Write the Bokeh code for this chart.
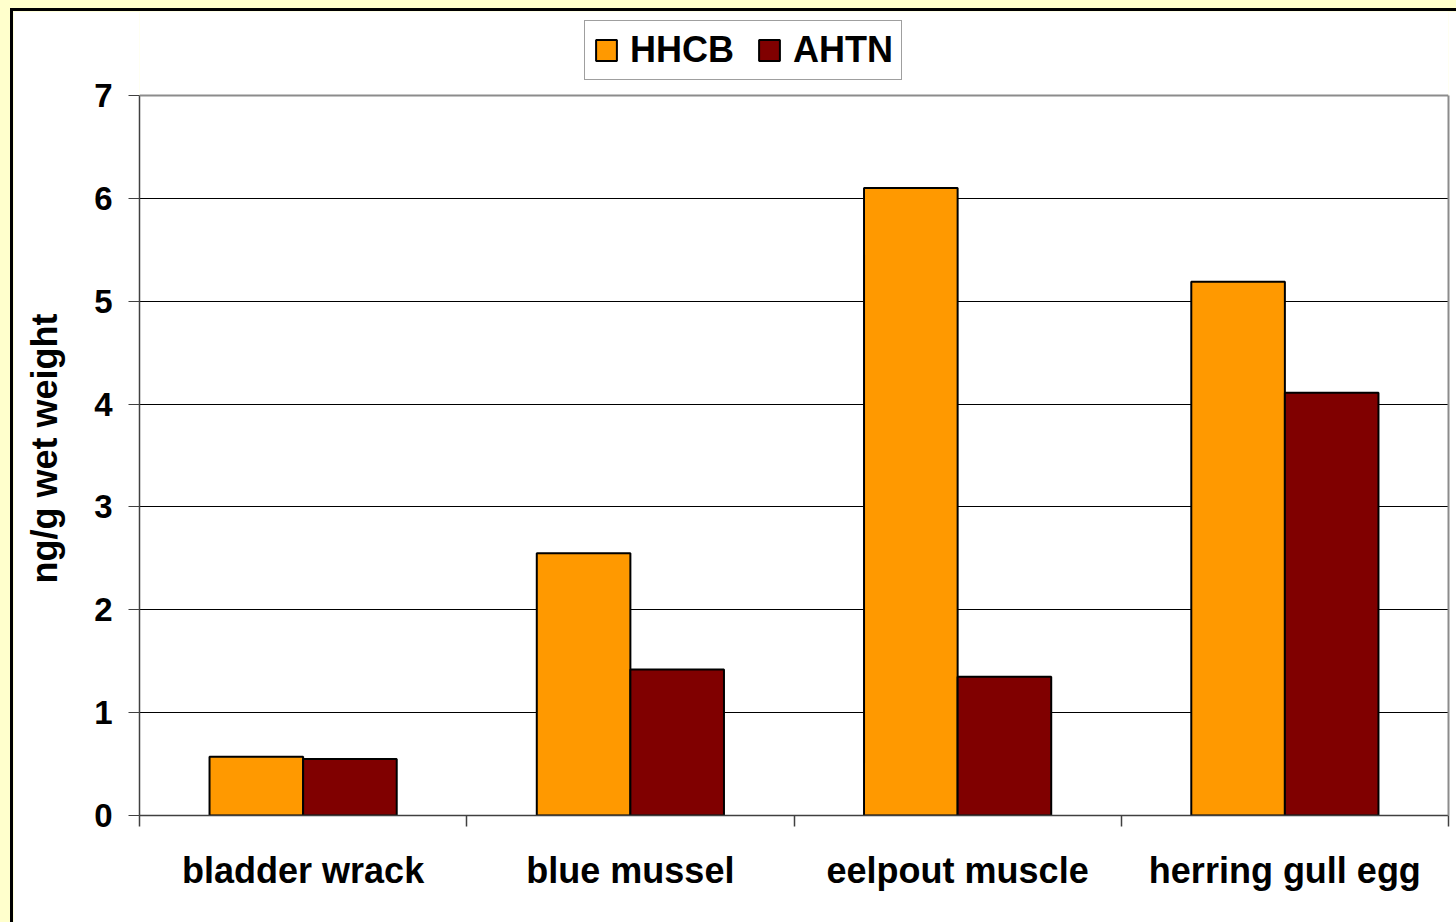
import numpy as np
from bokeh.plotting import figure
from bokeh.models import (ColumnDataSource, FixedTicker, Legend, LegendItem,
                          LinearAxis, Span)
from bokeh.transform import dodge
from bokeh.embed import file_html
from bokeh.resources import INLINE

categories = ["bladder wrack", "blue mussel", "eelpout muscle", "herring gull egg"]
hhcb = [0.57, 2.55, 6.10, 5.19]
ahtn = [0.55, 1.42, 1.35, 4.11]
series_names = ["HHCB", "AHTN"]
series_colors = ["#FF9900", "#800000"]
y_ticks = [0, 1, 2, 3, 4, 5, 6, 7]
y_label = "ng/g wet weight"

FONT = "Liberation Sans"
YMAX = 7
# layout constants (pixels)
FRAME_W = 1309
FRAME_H = 804          # frame extends up to the top to hold the legend
AXIS_H = 720           # pixel height of the 0..7 value range
y_top = YMAX * FRAME_H / AXIS_H

centers = np.arange(len(categories)) + 0.5
src = ColumnDataSource(dict(x=centers, hhcb=hhcb, ahtn=ahtn))

p = figure(frame_width=FRAME_W, frame_height=FRAME_H,
           x_range=(0, len(categories)), y_range=(0, y_top),
           output_backend="svg", toolbar_location=None,
           min_border_left=126, min_border_right=8, min_border_top=0,
           min_border_bottom=107)
p.border_fill_color = "white"
p.background_fill_color = "white"
p.outline_line_color = None
p.styles = {"margin-left": "10px", "margin-top": "8px",
            "border-left": "3px solid black", "border-top": "3px solid black"}

bw = 0.286
r1 = p.vbar(x=dodge("x", -0.143, range=p.x_range), top="hhcb", width=bw,
            source=src, fill_color=series_colors[0], line_color="black",
            line_width=2)
r2 = p.vbar(x=dodge("x", 0.143, range=p.x_range), top="ahtn", width=bw,
            source=src, fill_color=series_colors[1], line_color="black",
            line_width=2)

# grid
p.xgrid.grid_line_color = None
p.ygrid.grid_line_color = "black"
p.ygrid.grid_line_width = 1
p.ygrid.ticker = FixedTicker(ticks=y_ticks[1:-1])

# plot-area border (top / right, grey)
p.add_layout(Span(location=YMAX, dimension="width", line_color="#8C8C8C",
                  line_width=2))
ra = LinearAxis(bounds=(0, YMAX), ticker=FixedTicker(ticks=[]))
ra.axis_line_color = "#8C8C8C"
ra.axis_line_width = 2
ra.major_tick_out = 0
ra.major_tick_in = 0
ra.minor_tick_out = 0
ra.minor_tick_in = 0
p.add_layout(ra, "right")

# y axis
ya = p.yaxis[0]
ya.bounds = (0, YMAX)
ya.ticker = FixedTicker(ticks=y_ticks)
ya.axis_line_color = "#404040"
ya.axis_line_width = 1.5
ya.major_tick_out = 11
ya.major_tick_in = 0
ya.major_tick_line_color = "#404040"
ya.minor_tick_line_color = None
ya.major_label_standoff = 16
ya.major_label_text_font = FONT
ya.major_label_text_font_style = "bold"
ya.major_label_text_font_size = "33px"
ya.major_label_text_color = "black"
# trailing no-break spaces centre the label on the 0..7 range, not the frame
ya.axis_label = y_label + "\u00a0" * 7
ya.axis_label_text_font = FONT
ya.axis_label_text_font_style = "bold"
ya.axis_label_text_font_size = "36px"
ya.axis_label_text_color = "black"
ya.axis_label_standoff = 26

# x axis
xa = p.xaxis[0]
xa.ticker = FixedTicker(ticks=list(centers),
                        minor_ticks=list(range(len(categories) + 1)))
xa.major_label_overrides = {float(c): name for c, name in zip(centers, categories)}
xa.axis_line_color = "#404040"
xa.axis_line_width = 1.5
xa.major_tick_out = 0
xa.major_tick_in = 0
xa.minor_tick_out = 11
xa.minor_tick_in = 0
xa.minor_tick_line_color = "#404040"
xa.minor_tick_line_width = 1.5
xa.major_label_standoff = 23
xa.major_label_text_font = FONT
xa.major_label_text_font_style = "bold"
xa.major_label_text_font_size = "36px"
xa.major_label_text_color = "black"

legend = Legend(items=[LegendItem(label=series_names[0], renderers=[r1]),
                       LegendItem(label=series_names[1], renderers=[r2])],
                orientation="horizontal", location=(445, 735))
legend.label_text_font = FONT
legend.label_text_font_style = "bold"
legend.label_text_font_size = "36px"
legend.label_text_color = "black"
legend.glyph_width = 26
legend.glyph_height = 26
legend.label_standoff = 11
legend.spacing = 22
legend.padding = 8
legend.margin = 0
legend.border_line_color = "#404040"
legend.border_line_width = 1.5
legend.background_fill_color = "white"
legend.background_fill_alpha = 1.0
p.add_layout(legend)

html = file_html(p, INLINE)
html = html.replace(
    "</head>",
    "<style>html,body{background:#FFFFCC;overflow:hidden;}</style></head>", 1)
open("out.html", "w").write(html)
